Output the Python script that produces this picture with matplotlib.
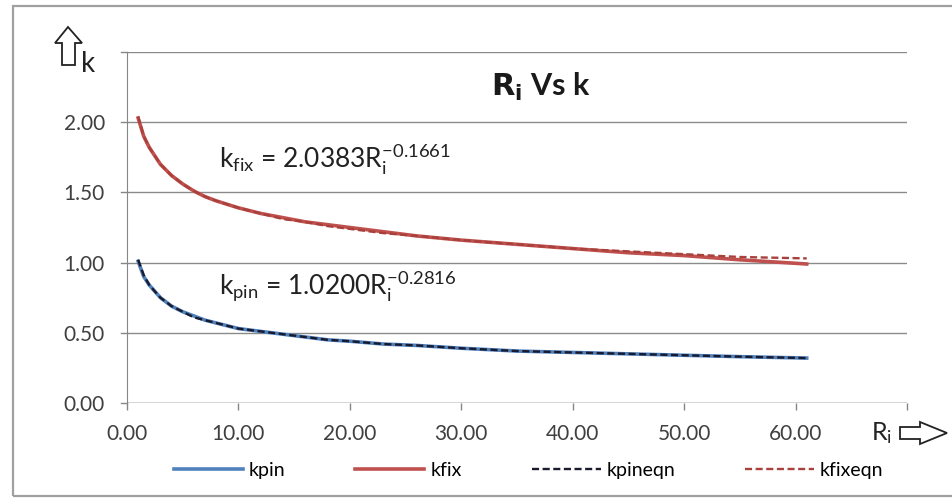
import matplotlib.pyplot as plt
import matplotlib as mpl
from matplotlib.patches import Polygon, Rectangle

mpl.rc('font', family=['Lato', 'DejaVu Sans'])

# values
ri = [1, 1.5, 2, 3, 4, 5, 6, 7, 8, 10, 12, 14, 16, 18, 20, 23, 26, 30, 35, 40, 45, 50, 55, 61]
kpin = [1.01, 0.90, 0.84, 0.75, 0.69, 0.65, 0.62, 0.59, 0.57, 0.53, 0.51, 0.49,
        0.47, 0.45, 0.44, 0.42, 0.41, 0.39, 0.37, 0.36, 0.35, 0.34, 0.33, 0.32]
kfix = [2.03, 1.90, 1.82, 1.70, 1.62, 1.56, 1.51, 1.47, 1.44, 1.39, 1.35, 1.32,
        1.29, 1.27, 1.25, 1.22, 1.19, 1.16, 1.13, 1.10, 1.07, 1.05, 1.02, 0.99]
kpineqn = [1.02, 0.91, 0.84, 0.75, 0.69, 0.65, 0.61, 0.59, 0.57, 0.53, 0.51, 0.49,
           0.47, 0.45, 0.44, 0.42, 0.41, 0.39, 0.37, 0.36, 0.35, 0.34, 0.33, 0.32]
kfixeqn = [2.04, 1.90, 1.82, 1.70, 1.62, 1.56, 1.51, 1.47, 1.44, 1.39, 1.35, 1.31,
           1.29, 1.26, 1.24, 1.21, 1.19, 1.16, 1.13, 1.10, 1.08, 1.06, 1.04, 1.03]

xticks = [0, 10, 20, 30, 40, 50, 60, 70]
yticks = [0, 0.5, 1.0, 1.5, 2.0, 2.5]

W, H = 952, 498
fig = plt.figure(figsize=(W / 100, H / 100), dpi=100)
ax = fig.add_axes([127 / W, 1 - 403 / H, 780 / W, 351 / H])


def px(x, y):
    return (x / W, 1 - y / H)


ax.plot(ri, kpin, color='#4f81bd', lw=2.6, label='kpin')
ax.plot(ri, kfix, color='#c0504d', lw=2.6, label='kfix')
ax.plot(ri, kpineqn, color='#1a1a2e', lw=1.7, ls=(0, (3, 1.5)), label='kpineqn')
ax.plot(ri, kfixeqn, color='#a8403c', lw=1.7, ls=(0, (3, 1.5)), label='kfixeqn')

ax.set_xlim(0, 70)
ax.set_ylim(0, 2.5)
ax.set_xticks(xticks)
ax.set_xticklabels([f'{v:.2f}' for v in xticks[:-1]] + [''])
ax.set_yticks(yticks)
ax.set_yticklabels([f'{v:.2f}' for v in yticks[:-1]] + [''])
ax.tick_params(axis='both', length=5, width=1, color='#868686', labelsize=15,
               labelcolor='#404040', pad=10)
ax.tick_params(axis='y', length=0, pad=16)
ax.grid(axis='y', color='#8a8a8a', lw=1)
ax.set_axisbelow(True)
for s in ['top', 'right', 'bottom']:
    ax.spines[s].set_visible(False)
ax.spines['left'].set_color('#868686')
ax.axhline(0, color='#868686', lw=1, zorder=1)
# small y ticks drawn outside
for v in yticks:
    ax.plot([-0.5, 0], [v, v], color='#868686', lw=1, clip_on=False)

ax.text(0.53, 0.90, r'$\mathbf{R_i}$ Vs k', transform=ax.transAxes,
        ha='center', va='center', fontsize=22, fontweight='bold', color='#1a1a1a')
ax.text(8.3, 1.675, r'$\mathregular{k_{fix}}$ = 2.0383$\mathregular{R_i^{-0.1661}}$',
        fontsize=19, va='baseline', color='#222222')
ax.text(8.3, 0.78, r'$\mathregular{k_{pin}}$ = 1.0200$\mathregular{R_i^{-0.2816}}$',
        fontsize=19, va='baseline', color='#222222')

ax.legend(loc='center', bbox_to_anchor=(0.515, -0.193), ncol=4, frameon=False,
          fontsize=14, handlelength=3.55, columnspacing=3.6, handletextpad=0.3)

# axis labels with hollow arrows
fig.text(*px(88, 64), 'k', fontsize=20, ha='center', va='center', color='#222222')
fig.text(*px(882, 433), r'$\mathregular{R_i}$', fontsize=18, ha='center', va='center',
         color='#222222')
up = [px(68, 27), px(82, 43), px(75, 43), px(75, 65), px(62, 65), px(62, 43), px(55, 43)]
right = [px(947, 433), px(920, 422), px(920, 427), px(900, 427), px(900, 439),
         px(920, 439), px(920, 444)]
for pts in [up, right]:
    fig.add_artist(Polygon(pts, closed=True, facecolor='white', edgecolor='#222222',
                           lw=1.3, transform=fig.transFigure))

# outer chart border
fig.add_artist(Rectangle(px(13, 496), (W + 10 - 13) / W, 490 / H, fill=False,
                         edgecolor='#a0a0a0', lw=1.6, transform=fig.transFigure))

fig.savefig('out.png', dpi=100)
